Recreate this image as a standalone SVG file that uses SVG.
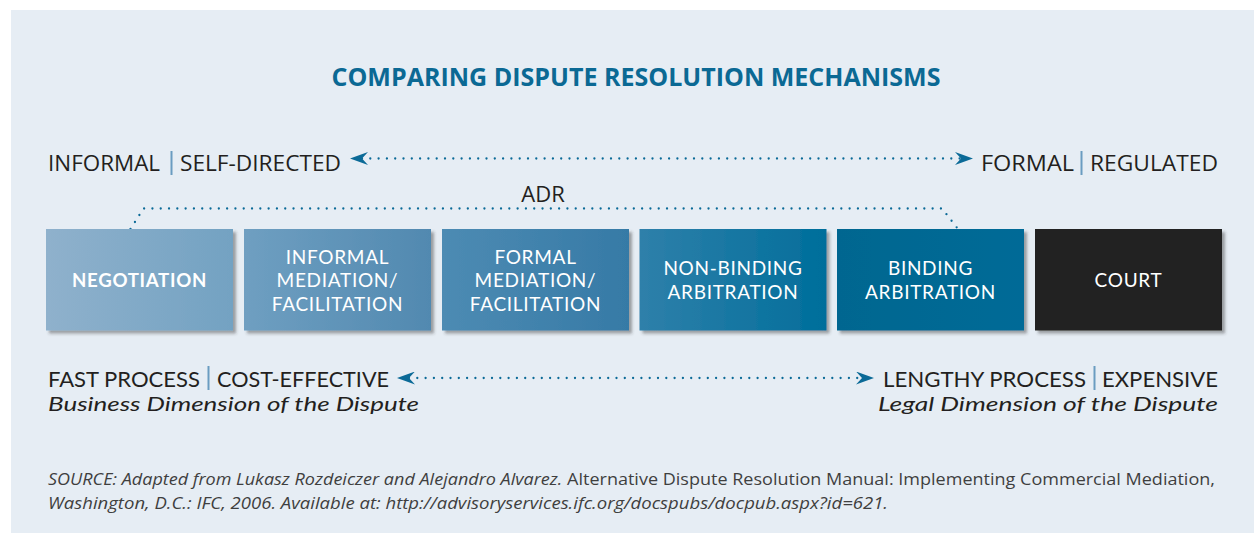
<svg xmlns="http://www.w3.org/2000/svg" width="1254" height="533" viewBox="0 0 1254 533">
<style>
.t{font-family:"Open Sans","Noto Sans","Liberation Sans",sans-serif;}
.lbl{font-family:"Open Sans","Noto Sans","Liberation Sans",sans-serif;font-size:22px;fill:#231f20;}
.lbl2{font-family:Lato,"Open Sans","Liberation Sans",sans-serif;font-size:21.5px;fill:#231f20;}
.it{font-style:italic;font-size:20px;}
.box-t{font-family:Lato,"Open Sans","Liberation Sans",sans-serif;font-size:19px;letter-spacing:0.7px;fill:#ffffff;text-anchor:middle;}
.div{stroke:#6a9cc1;stroke-width:2;}
.dot{fill:none;stroke:#0b6a97;stroke-width:2.3;stroke-linecap:round;stroke-dasharray:0 8.3;}
.src{font-family:"Open Sans","Noto Sans","Liberation Sans",sans-serif;font-size:15.5px;fill:#3f3f3f;}
.src-it{font-style:italic;}
</style>
<defs>
<marker id="ah" viewBox="0 0 18 13" refX="6" refY="6.5" markerWidth="18" markerHeight="13" markerUnits="userSpaceOnUse" orient="auto-start-reverse">
<path d="M0,0 L18,6.5 L0,13 L6,6.5 Z" fill="#0b6a97"/>
</marker>
<filter id="sh" x="-5%" y="-5%" width="115%" height="120%">
<feDropShadow dx="3" dy="3" stdDeviation="1.6" flood-color="#3a3a3a" flood-opacity="0.45"/>
</filter>
<linearGradient id="g1" x1="0" x2="1" y1="0" y2="0"><stop offset="0" stop-color="#8fb1cc"/><stop offset="1" stop-color="#73a2c2"/></linearGradient>
<linearGradient id="g2" x1="0" x2="1" y1="0" y2="0"><stop offset="0" stop-color="#6f9fc1"/><stop offset="1" stop-color="#5189b0"/></linearGradient>
<linearGradient id="g3" x1="0" x2="1" y1="0" y2="0"><stop offset="0" stop-color="#4d8bb3"/><stop offset="1" stop-color="#367aa6"/></linearGradient>
<linearGradient id="g4" x1="0" x2="1" y1="0" y2="0"><stop offset="0" stop-color="#2f80aa"/><stop offset="1" stop-color="#006e9b"/></linearGradient>
<linearGradient id="g5" x1="0" x2="1" y1="0" y2="0"><stop offset="0" stop-color="#006690"/><stop offset="1" stop-color="#006b97"/></linearGradient>
</defs>
<rect x="11" y="10" width="1243" height="523" fill="#e6edf4"/>
<text class="t" x="636" y="86" text-anchor="middle" font-size="25" font-weight="bold" fill="#0b6994" textLength="609" lengthAdjust="spacingAndGlyphs">COMPARING DISPUTE RESOLUTION MECHANISMS</text>

<g id="label-informal">
<text class="lbl" x="48" y="171" textLength="112" lengthAdjust="spacingAndGlyphs">INFORMAL</text>
<line class="div" x1="171.5" y1="151" x2="171.5" y2="175"/>
<text class="lbl" x="180" y="171" textLength="161" lengthAdjust="spacingAndGlyphs">SELF-DIRECTED</text>
</g>
<g id="label-formal">
<text class="lbl" x="981" y="171" textLength="93" lengthAdjust="spacingAndGlyphs">FORMAL</text>
<line class="div" x1="1081.5" y1="151" x2="1081.5" y2="175"/>
<text class="lbl" x="1090" y="171" textLength="128" lengthAdjust="spacingAndGlyphs">REGULATED</text>
</g>
<g id="label-adr">
<text class="lbl" x="543" y="202" text-anchor="middle">ADR</text>
</g>

<g id="connectors">
<path class="dot" d="M362,158.5 L961,158.5" marker-start="url(#ah)" marker-end="url(#ah)"/>
<path class="dot" d="M130.5,229 L143.5,208.5 L942,208.5 L958,229"/>
<path class="dot" d="M409,378 L862,378" marker-start="url(#ah)" marker-end="url(#ah)"/>
</g>

<g id="negotiation">
<rect x="46" y="229" width="187" height="101.5" fill="url(#g1)" filter="url(#sh)"/>
<text class="box-t" x="139.5" y="287" font-weight="bold" textLength="135" lengthAdjust="spacingAndGlyphs">NEGOTIATION</text>
</g>
<g id="informal-mediation">
<rect x="244" y="229" width="187" height="101.5" fill="url(#g2)" filter="url(#sh)"/>
<text class="box-t" x="337.5" y="264">INFORMAL</text>
<text class="box-t" x="337.5" y="287.3">MEDIATION/</text>
<text class="box-t" x="337.5" y="310.6">FACILITATION</text>
</g>
<g id="formal-mediation">
<rect x="442" y="229" width="187" height="101.5" fill="url(#g3)" filter="url(#sh)"/>
<text class="box-t" x="535.5" y="264">FORMAL</text>
<text class="box-t" x="535.5" y="287.3">MEDIATION/</text>
<text class="box-t" x="535.5" y="310.6">FACILITATION</text>
</g>
<g id="non-binding-arbitration">
<rect x="639.5" y="229" width="187" height="101.5" fill="url(#g4)" filter="url(#sh)"/>
<text class="box-t" x="733" y="275">NON-BINDING</text>
<text class="box-t" x="733" y="298.5">ARBITRATION</text>
</g>
<g id="binding-arbitration">
<rect x="837" y="229" width="187" height="101.5" fill="url(#g5)" filter="url(#sh)"/>
<text class="box-t" x="930.5" y="275">BINDING</text>
<text class="box-t" x="930.5" y="298.5">ARBITRATION</text>
</g>
<g id="court">
<rect x="1035" y="229" width="187" height="101.5" fill="#222420" filter="url(#sh)"/>
<text class="box-t" x="1128.5" y="287">COURT</text>
</g>

<g id="label-fast">
<text class="lbl2" x="48" y="386.5" textLength="152" lengthAdjust="spacingAndGlyphs">FAST PROCESS</text>
<line class="div" x1="208.5" y1="366" x2="208.5" y2="390"/>
<text class="lbl2" x="217" y="386.5" textLength="172" lengthAdjust="spacingAndGlyphs">COST-EFFECTIVE</text>
<text class="lbl2 it" x="48" y="411" textLength="371" lengthAdjust="spacingAndGlyphs">Business Dimension of the Dispute</text>
</g>
<g id="label-lengthy">
<text class="lbl2" x="883" y="386.5" textLength="203" lengthAdjust="spacingAndGlyphs">LENGTHY PROCESS</text>
<line class="div" x1="1094.5" y1="366" x2="1094.5" y2="390"/>
<text class="lbl2" x="1102" y="386.5" textLength="116" lengthAdjust="spacingAndGlyphs">EXPENSIVE</text>
<text class="lbl2 it" x="878" y="411" textLength="340" lengthAdjust="spacingAndGlyphs">Legal Dimension of the Dispute</text>
</g>

<g id="source">
<text class="src" x="48" y="485" textLength="1167" lengthAdjust="spacingAndGlyphs"><tspan class="src-it">SOURCE: Adapted from Lukasz Rozdeiczer and Alejandro Alvarez.</tspan> Alternative Dispute Resolution Manual: Implementing Commercial Mediation,</text>
<text class="src src-it" x="48" y="509" textLength="840" lengthAdjust="spacingAndGlyphs">Washington, D.C.: IFC, 2006. Available at: http://advisoryservices.ifc.org/docspubs/docpub.aspx?id=621.</text>
</g>
</svg>
